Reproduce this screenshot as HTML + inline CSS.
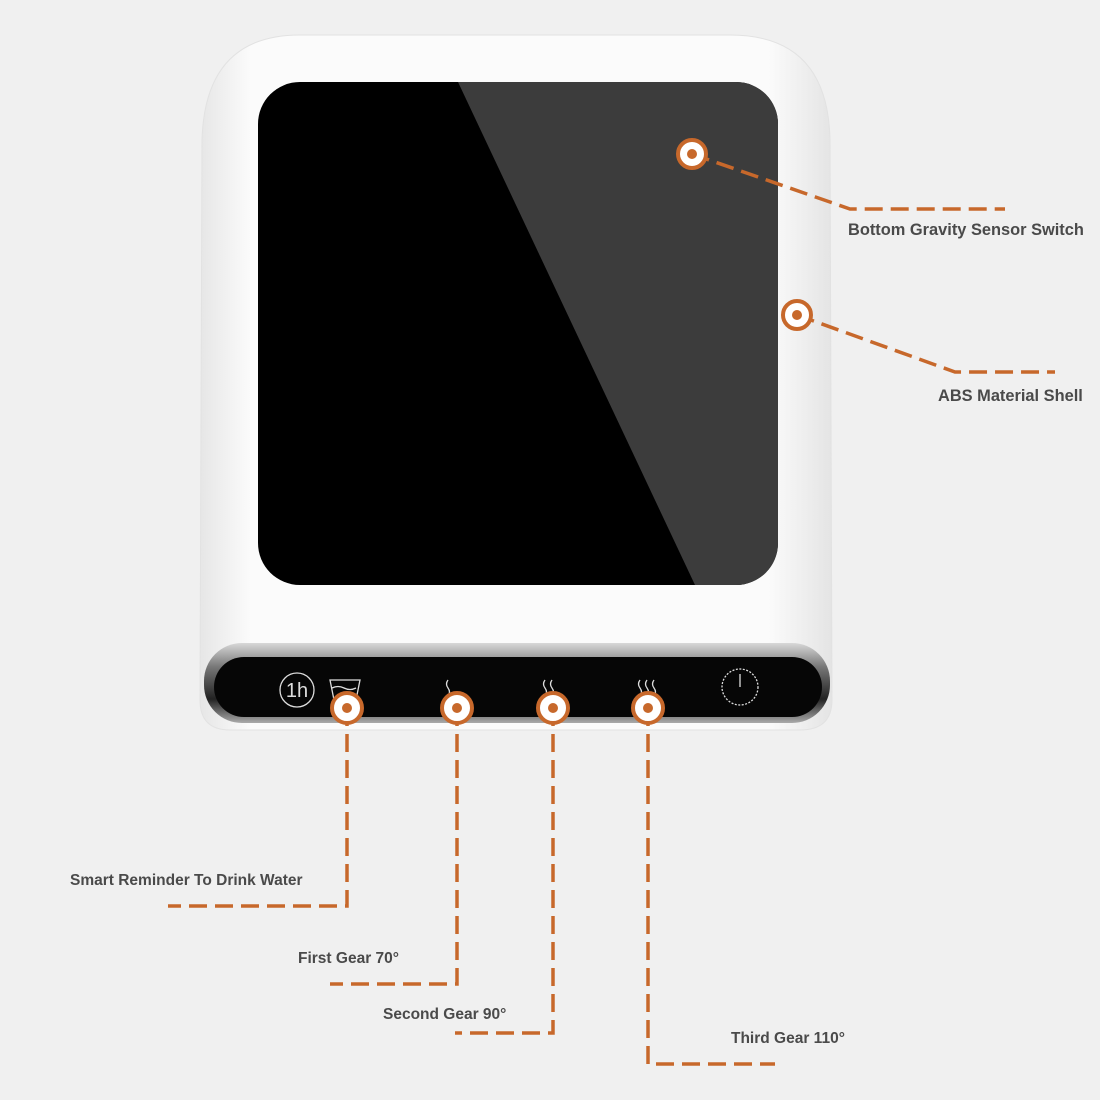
<!DOCTYPE html>
<html><head><style>
html,body{margin:0;padding:0;background:#f0f0f0;}
svg{display:block}
text{font-family:"Liberation Sans",Arial,sans-serif;font-weight:bold;fill:#4a4a4a;}
</style></head><body>
<svg width="1100" height="1100" viewBox="0 0 1100 1100" xmlns="http://www.w3.org/2000/svg">
<defs>
<linearGradient id="body" x1="0" y1="0" x2="1" y2="0">
<stop offset="0" stop-color="#e6e6e6"/><stop offset="0.08" stop-color="#fbfbfb"/><stop offset="0.9" stop-color="#fbfbfb"/><stop offset="1" stop-color="#e4e4e4"/>
</linearGradient>
<linearGradient id="chrome" x1="0" y1="0" x2="0" y2="1">
<stop offset="0" stop-color="#d8d8d8"/><stop offset="0.3" stop-color="#777"/><stop offset="0.7" stop-color="#222"/><stop offset="1" stop-color="#aaa"/>
</linearGradient>
<clipPath id="glass"><rect x="258" y="82" width="520" height="503" rx="42"/></clipPath>
</defs>
<rect width="1100" height="1100" fill="#f0f0f0"/>
<path d="M300 35 H730 Q828 35 830 140 L832 700 Q832 730 800 730 H230 Q200 730 200 700 L202 140 Q205 35 300 35 Z" fill="url(#body)" stroke="#e2e2e2"/>
<g clip-path="url(#glass)">
<rect x="258" y="82" width="520" height="503" fill="#000"/>
<polygon points="458,82 778,82 778,585 695,585" fill="#3c3c3c"/>
</g>
<rect x="204" y="643" width="626" height="80" rx="38" fill="url(#chrome)"/>
<rect x="214" y="657" width="608" height="60" rx="30" fill="#060606"/>
<g stroke="#ddd" fill="none" stroke-width="1.3">
<circle cx="297" cy="690" r="17"/>
<path d="M330 680 h30 l-4 20 h-22 z"/><path d="M332 688 q6 -3 12 0 t12 0"/>
<path d="M448 680 q-3 4 0 8 t0 8"/>
<path d="M545 680 q-3 4 0 8 t0 8"/><path d="M552 680 q-3 4 0 8 t0 8"/>
<path d="M640 680 q-3 4 0 8 t0 8"/><path d="M647 680 q-3 4 0 8 t0 8"/><path d="M654 680 q-3 4 0 8 t0 8"/>
<circle cx="740" cy="687" r="18" stroke-dasharray="2 1.5"/><path d="M740 674 v13"/>
</g>
<text x="297" y="697" font-size="20" style="fill:#ddd;font-weight:normal" text-anchor="middle">1h</text>
<g stroke="#c7682b" stroke-width="3.5" fill="none" stroke-dasharray="18 8">
<path d="M692 154 L850 209 H1005"/>
<path d="M797 315 L955 372 H1055"/>
<path d="M347 708 V906 H168"/>
<path d="M457 708 V984 H330"/>
<path d="M553 708 V1033 H455"/>
<path d="M648 708 V1064 H775"/>
</g>
<g fill="#fff" stroke="#c7682b" stroke-width="4">
<circle cx="692" cy="154" r="14"/><circle cx="797" cy="315" r="14"/>
<circle cx="347" cy="708" r="15"/><circle cx="457" cy="708" r="15"/><circle cx="553" cy="708" r="15"/><circle cx="648" cy="708" r="15"/>
</g>
<g fill="#c7682b">
<circle cx="692" cy="154" r="5"/><circle cx="797" cy="315" r="5"/>
<circle cx="347" cy="708" r="5"/><circle cx="457" cy="708" r="5"/><circle cx="553" cy="708" r="5"/><circle cx="648" cy="708" r="5"/>
</g>
<text x="848" y="235" font-size="16.4">Bottom Gravity Sensor Switch</text>
<text x="938" y="401" font-size="16.4">ABS Material Shell</text>
<text x="70" y="885" font-size="15.5">Smart Reminder To Drink Water</text>
<text x="298" y="963" font-size="15.5">First Gear 70°</text>
<text x="383" y="1019" font-size="15.5">Second Gear 90°</text>
<text x="731" y="1043" font-size="15.5">Third Gear 110°</text>
</svg>
</body></html>
